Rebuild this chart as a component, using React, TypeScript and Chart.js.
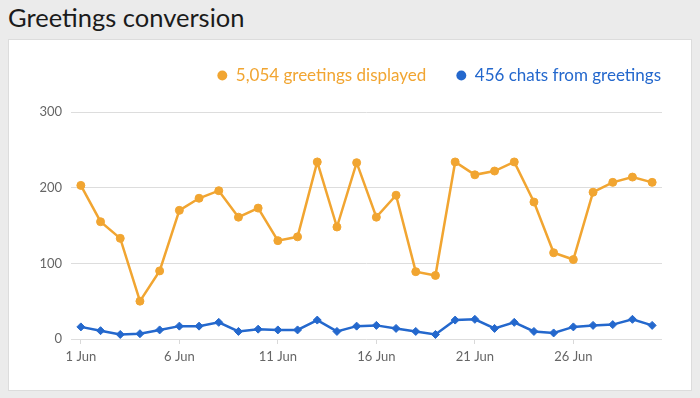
import React, { useEffect, useRef } from 'react';
import { Chart, registerables } from 'chart.js';

Chart.register(...registerables);

const dayLabels = [
  '1 Jun', '2 Jun', '3 Jun', '4 Jun', '5 Jun', '6 Jun', '7 Jun', '8 Jun', '9 Jun', '10 Jun',
  '11 Jun', '12 Jun', '13 Jun', '14 Jun', '15 Jun', '16 Jun', '17 Jun', '18 Jun', '19 Jun', '20 Jun',
  '21 Jun', '22 Jun', '23 Jun', '24 Jun', '25 Jun', '26 Jun', '27 Jun', '28 Jun', '29 Jun', '30 Jun',
];

const greetingsDisplayed = [
  203, 155, 133, 50, 90, 170, 186, 196, 161, 173,
  130, 135, 234, 148, 233, 161, 190, 89, 84, 234,
  217, 222, 234, 181, 114, 105, 194, 207, 214, 207,
];

const chatsFromGreetings = [
  16, 11, 6, 7, 12, 17, 17, 22, 10, 13,
  12, 12, 25, 10, 17, 18, 14, 10, 6, 25,
  26, 14, 22, 10, 8, 16, 18, 19, 26, 18,
];

const seriesNames = ['5,054 greetings displayed', '456 chats from greetings'];
const yTicks = [0, 100, 200, 300];

const ORANGE = '#f1a531';
const BLUE = '#2468cd';
const FONT = 'Lato, "Noto Sans", sans-serif';

const legendHeightPlugin = {
  id: 'legendHeight',
  afterInit(chart: any) {
    const lg = chart.legend;
    if (!lg) return;
    const orig = lg.fit.bind(lg);
    lg.fit = function () {
      orig();
      this.height = 75;
    };
  },
};

export default function App() {
  const ref = useRef<HTMLCanvasElement | null>(null);

  useEffect(() => {
    if (!ref.current) return;
    const colors = [ORANGE, BLUE];
    const chart = new Chart(ref.current, {
      type: 'line',
      data: {
        labels: dayLabels,
        datasets: [
          {
            label: seriesNames[0],
            data: greetingsDisplayed,
            borderColor: ORANGE,
            backgroundColor: ORANGE,
            borderWidth: 2.5,
            pointStyle: 'circle',
            pointRadius: 4,
            pointBorderWidth: 1,
            pointBackgroundColor: ORANGE,
            pointBorderColor: ORANGE,
            tension: 0,
          },
          {
            label: seriesNames[1],
            data: chatsFromGreetings,
            borderColor: BLUE,
            backgroundColor: BLUE,
            borderWidth: 2.5,
            pointStyle: 'rectRot',
            pointRadius: 4,
            pointBorderWidth: 1,
            pointBackgroundColor: BLUE,
            pointBorderColor: BLUE,
            tension: 0,
          },
        ],
      },
      options: {
        responsive: false,
        animation: false,
        layout: { padding: { left: 3, right: 0, top: -3, bottom: 3 } },
        plugins: {
          tooltip: { enabled: false },
          legend: {
            position: 'top',
            align: 'end',
            labels: {
              usePointStyle: true,
              pointStyle: 'circle',
              boxWidth: 10,
              boxHeight: 7,
              padding: 30,
              font: { family: FONT, size: 17 },
              generateLabels: (c: any) => {
                const items = (Chart as any).defaults.plugins.legend.labels.generateLabels(c);
                items.forEach((it: any, i: number) => {
                  it.fontColor = colors[i];
                  it.fillStyle = colors[i];
                  it.strokeStyle = colors[i];
                  it.lineWidth = 0;
                  it.pointStyle = 'circle';
                });
                return items;
              },
            },
          },
        },
        scales: {
          x: {
            type: 'category',
            offset: true,
            afterFit: (s: any) => {
              s.height = 48;
            },
            grid: {
              offset: false,
              drawOnChartArea: false,
              drawTicks: true,
              tickLength: 5,
              tickColor: (ctx: any) => (ctx.index % 5 === 0 ? '#d9d9d9' : 'rgba(0,0,0,0)'),
            },
            border: { display: false },
            ticks: {
              autoSkip: false,
              maxRotation: 0,
              padding: 5,
              color: '#666666',
              font: { family: FONT, size: 13 },
              callback: (_v: any, i: number) => (i % 5 === 0 ? dayLabels[i] : ''),
            },
          },
          y: {
            min: yTicks[0],
            max: yTicks[yTicks.length - 1],
            afterFit: (s: any) => {
              s.width = 59;
            },
            afterBuildTicks: (s: any) => {
              s.ticks = yTicks.map((v) => ({ value: v }));
            },
            grid: { color: '#dddddd', lineWidth: 1, drawTicks: false },
            border: { display: false },
            ticks: {
              padding: 9,
              color: '#666666',
              font: { family: FONT, size: 13 },
            },
          },
          yRight: {
            position: 'right',
            display: true,
            afterFit: (s: any) => {
              s.width = 29;
            },
            grid: { display: false, drawTicks: false },
            border: { display: false },
            ticks: { display: false },
          },
        },
      },
      plugins: [legendHeightPlugin],
    } as any);
    return () => chart.destroy();
  }, []);

  return (
    <div
      style={{
        position: 'fixed',
        left: 0,
        top: 0,
        width: 700,
        height: 398,
        background: '#ebebeb',
        fontFamily: FONT,
      }}
    >
      <div
        style={{
          position: 'absolute',
          left: 8,
          top: 2,
          fontSize: 25.5,
          lineHeight: 'normal',
          color: '#1b1b1b',
          whiteSpace: 'nowrap',
        }}
      >
        Greetings conversion
      </div>
      <div
        style={{
          position: 'absolute',
          left: 8,
          top: 39,
          width: 682,
          height: 350,
          background: '#ffffff',
          border: '1px solid #dcdcdc',
        }}
      >
        <canvas ref={ref} width={682} height={350} style={{ display: 'block', width: 682, height: 350 }} />
      </div>
    </div>
  );
}
